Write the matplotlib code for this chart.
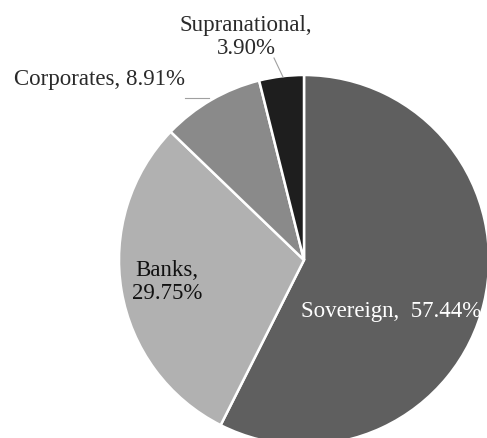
import matplotlib.pyplot as plt

categories = ["Sovereign", "Banks", "Corporates", "Supranational"]
shares = [57.44, 29.75, 8.91, 3.90]
colors = ["#5f5f5f", "#b1b1b1", "#8a8a8a", "#1e1e1e"]

plt.rcParams['font.family'] = ['Liberation Serif', 'DejaVu Serif']

fig = plt.figure(figsize=(4.87, 4.38), dpi=100)
ax = fig.add_axes([0, 0, 1, 1])

# pie centre and radius in pixel units of the picture
cx, cy, r = 304, 438 - 260, 185
ax.pie(shares, colors=colors, startangle=90, counterclock=False,
       center=(cx, cy), radius=r, frame=True,
       wedgeprops=dict(edgecolor='white', linewidth=1.8))
ax.set_xlim(0, 487)
ax.set_ylim(0, 438)
ax.set_aspect('equal')
ax.axis('off')

fs = 16.5
ax.text(246, 438 - 37, f"{categories[3]},\n{shares[3]:.2f}%", ha='center', va='center',
        fontsize=fs, color='#2a2a2a', linespacing=1.15)
ax.plot([274, 283], [438 - 58, 438 - 77], color='#a0a0a0', lw=0.8)

ax.text(99, 438 - 79, f"{categories[2]}, {shares[2]:.2f}%", ha='center', va='center',
        fontsize=fs, color='#2a2a2a')
ax.plot([185, 209], [438 - 98, 438 - 98], color='#a0a0a0', lw=0.8)

ax.text(167, 438 - 282, f"{categories[1]},\n{shares[1]:.2f}%", ha='center', va='center',
        fontsize=fs, color='#111111', linespacing=1.15)

ax.text(391, 438 - 311, f"{categories[0]},  {shares[0]:.2f}%", ha='center', va='center',
        fontsize=fs, color='white')

fig.savefig("out.png", dpi=100)
